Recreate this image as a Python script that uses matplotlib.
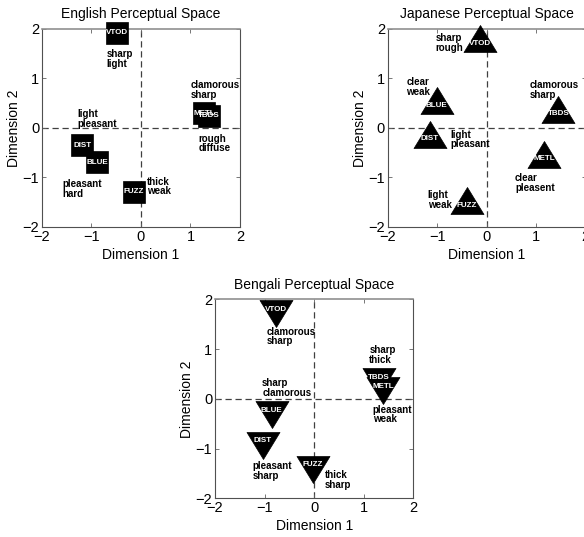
import matplotlib
matplotlib.use("Agg")
import matplotlib.pyplot as plt
from matplotlib.path import Path

plt.rcParams['font.family'] = ['Liberation Sans', 'DejaVu Sans']

# ---- data -------------------------------------------------------------
eng_names = ["VTOD", "METL", "TBDS", "DIST", "BLUE", "FUZZ"]
eng_x = [-0.48, 1.28, 1.38, -1.19, -0.89, -0.14]
eng_y = [1.91, 0.29, 0.24, -0.35, -0.70, -1.29]
eng_desc = ["sharp\nlight", "clamorous\nsharp", "rough\ndiffuse",
            "light\npleasant", "pleasant\nhard", "thick\nweak"]
eng_desc_x = [-0.69, 1.01, 1.16, -1.28, -1.58, 0.12]
eng_desc_y = [1.58, 0.96, -0.12, 0.37, -1.04, -0.99]

jap_names = ["VTOD", "BLUE", "DIST", "TBDS", "METL", "FUZZ"]
jap_x = [-0.14, -1.01, -1.15, 1.45, 1.16, -0.40]
jap_y = [1.70, 0.45, -0.22, 0.28, -0.62, -1.56]
jap_desc = ["sharp\nrough", "clear\nweak", "light\npleasant",
            "clamorous\nsharp", "clear\npleasent", "light\nweak"]
jap_desc_x = [-1.03, -1.62, -0.74, 0.86, 0.57, -1.19]
jap_desc_y = [1.90, 1.02, -0.04, 0.96, -0.92, -1.26]

ben_names = ["VTOD", "TBDS", "METL", "BLUE", "DIST", "FUZZ"]
ben_x = [-0.77, 1.31, 1.39, -0.86, -1.04, -0.03]
ben_y = [1.80, 0.43, 0.25, -0.23, -0.84, -1.33]
ben_desc = ["clamorous\nsharp", "sharp\nthick", "sharp\nclamorous",
            "pleasant\nweak", "pleasant\nsharp", "thick\nsharp"]
ben_desc_x = [-0.96, 1.11, -1.05, 1.18, -1.24, 0.22]
ben_desc_y = [1.45, 1.08, 0.41, -0.12, -1.26, -1.43]

ticks = [-2, -1, 0, 1, 2]

# ---- marker shapes (centroid at the origin) ---------------------------
W, H = 33.0, 27.0
tri_up = Path([(0, 2 * H / 3), (-W / 2, -H / 3), (W / 2, -H / 3), (0, 2 * H / 3)],
              [Path.MOVETO, Path.LINETO, Path.LINETO, Path.CLOSEPOLY])
tri_dn = Path([(0, -2 * H / 3), (-W / 2, H / 3), (W / 2, H / 3), (0, -2 * H / 3)],
              [Path.MOVETO, Path.LINETO, Path.LINETO, Path.CLOSEPOLY])
tri_ms = 2 * (2 * H / 3) * 72 / 100.0   # max extent -> markersize in points
sq_ms = 16.5

fig = plt.figure(figsize=(5.84, 5.37), dpi=100)


def panel(rect, title, names, xs, ys, desc, dx, dy, marker, ms):
    ax = fig.add_axes(rect)
    ax.set_xlim(-2, 2)
    ax.set_ylim(-2, 2)
    ax.set_xticks(ticks)
    ax.set_yticks(ticks)
    ax.tick_params(direction='in', length=3, width=0.6, color='#606060',
                   top=True, right=True, labelsize=10.5, pad=2)
    for s in ax.spines.values():
        s.set_color('#505050')
        s.set_linewidth(0.8)
    ax.spines['top'].set_color('#909090')
    ax.spines['top'].set_linewidth(1.2)
    ax.axhline(0, color='#404040', ls=(0, (5, 3)), lw=0.9, zorder=1)
    ax.axvline(0, color='#404040', ls=(0, (5, 3)), lw=0.9, zorder=1)
    ax.set_title(title, fontsize=10, pad=7.5)
    ax.set_xlabel("Dimension 1", fontsize=10, labelpad=3)
    ax.set_ylabel("Dimension 2", fontsize=10, labelpad=1)
    for n, x, y in zip(names, xs, ys):
        ax.plot([x], [y], marker=marker, ms=ms, color='black',
                mec='black', mew=0.5, ls='none', clip_on=False, zorder=3)
        ax.text(x, y, n, color='white', fontsize=5.8, fontweight='bold',
                ha='center', va='center', zorder=4, clip_on=False)
    for t, x, y in zip(desc, dx, dy):
        ax.text(x, y, t, fontsize=7.0, fontweight='bold', ha='left',
                va='top', linespacing=0.95, zorder=5, clip_on=False)
    return ax


panel([0.0719, 0.5773, 0.339, 0.3696], "English Perceptual Space",
      eng_names, eng_x, eng_y, eng_desc, eng_desc_x, eng_desc_y, 's', sq_ms)
panel([0.6639, 0.5773, 0.339, 0.3696], "Japanese Perceptual Space",
      jap_names, jap_x, jap_y, jap_desc, jap_desc_x, jap_desc_y, tri_up, tri_ms)
panel([0.3682, 0.0721, 0.3396, 0.3706], "Bengali Perceptual Space",
      ben_names, ben_x, ben_y, ben_desc, ben_desc_x, ben_desc_y, tri_dn, tri_ms)

fig.savefig("out.png", dpi=100)
